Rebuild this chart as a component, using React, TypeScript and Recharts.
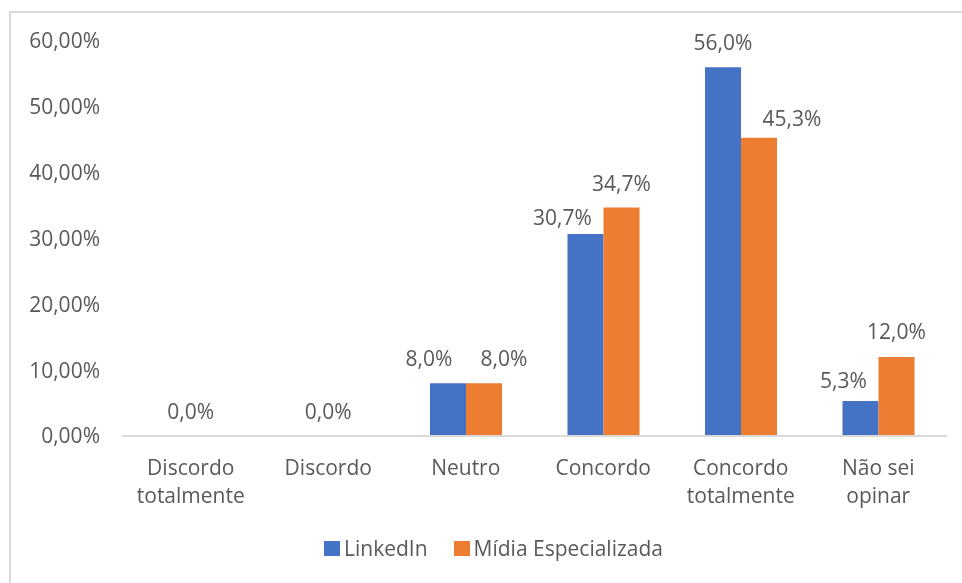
import { BarChart, Bar, XAxis, YAxis, Legend, LabelList } from "recharts";

const categories = [
  "Discordo totalmente",
  "Discordo",
  "Neutro",
  "Concordo",
  "Concordo totalmente",
  "Não sei opinar",
];
const linkedin = [0, 0, 8.0, 30.7, 56.0, 5.3];
const midia = [0, 0, 8.0, 34.7, 45.3, 12.0];
const yTicks = [0, 10, 20, 30, 40, 50, 60];
const seriesNames = ["LinkedIn", "Mídia Especializada"];

// label nudges (dx, dy) as placed by hand in the original
const linkedinShift = [[0, 0], [0, 0], [-19, 0], [-23, 8], [0, 0], [-17, 4]];
const midiaShift = [[0, 0], [0, 0], [20, 0], [0, 0], [33, 5], [0, -1]];

const BLUE = "#4472C4";
const ORANGE = "#ED7D31";
const TEXT = "#595959";
const FONT = "'Open Sans', sans-serif";
const FS = 21;

const data = categories.map((c, i) => ({ name: c, linkedin: linkedin[i], midia: midia[i] }));

const pct = (v: number, d: number) => v.toFixed(d).replace(".", ",") + "%";

// LabelList is keyed on the category name so the index is known
const makeLabel = (values: number[], shift: number[][]) => (props: any) => {
  const vb = props.viewBox || props;
  const x = props.x ?? vb.x;
  const y = props.y ?? vb.y;
  const width = props.width ?? vb.width;
  const i = categories.indexOf(props.value);
  if (i < 0) return null;
  const v = values[i];
  if (v === 0) return null;
  const [dx, dy] = shift[i];
  return (
    <text x={x + width / 2 + dx} y={y - 17 + dy} textAnchor="middle" fill={TEXT} fontSize={FS} fontFamily={FONT}>
      {pct(v, 1)}
    </text>
  );
};

const XTick = (props: any) => {
  const { x, y, payload } = props;
  const s: string = payload.value;
  const idx = categories.indexOf(s);
  const k = s.lastIndexOf(" ");
  const lines = k > 0 ? [s.slice(0, k), s.slice(k + 1)] : [s];
  const zero = idx >= 0 && linkedin[idx] === 0 && midia[idx] === 0;
  return (
    <g>
      {zero && (
        <text x={x} y={y - 25} textAnchor="middle" fill={TEXT} fontSize={FS} fontFamily={FONT}>
          {pct(0, 1)}
        </text>
      )}
      {lines.map((l, i) => (
        <text key={i} x={x} y={y + 31 + i * 28} textAnchor="middle" fill={TEXT} fontSize={FS} fontFamily={FONT}>
          {l}
        </text>
      ))}
    </g>
  );
};

const LegendBox = () => (
  <div style={{ height: 40, overflow: "visible" }}>
    <div style={{ position: "relative", top: 2, display: "flex", justifyContent: "center", paddingLeft: 32, fontFamily: FONT, fontSize: FS, color: TEXT }}>
      {seriesNames.map((n, i) => (
        <div key={n} style={{ display: "flex", alignItems: "center", marginRight: i === 0 ? 26 : 0 }}>
          <span style={{ width: 16, height: 15, background: i === 0 ? BLUE : ORANGE, display: "inline-block", marginRight: 4 }} />
          <span>{n}</span>
        </div>
      ))}
    </div>
  </div>
);

export default function App() {
  return (
    <div style={{ position: "relative", width: 946, height: 575 }}>
      <div style={{ position: "fixed", left: 9, top: 11, width: 980, height: 600, borderTop: "2px solid #D9D9D9", borderLeft: "2px solid #D9D9D9" }} />
      <BarChart width={946} height={575} data={data} margin={{ top: 33, right: 7, bottom: 11, left: 0 }} barGap={0} barSize={36}>
        <XAxis
          dataKey="name"
          height={96}
          interval={0}
          tickLine={false}
          axisLine={{ stroke: "#D9D9D9", strokeWidth: 2 }}
          tick={<XTick />}
        />
        <YAxis
          width={114}
          domain={[0, 60]}
          ticks={yTicks}
          axisLine={false}
          tickLine={false}
          tickMargin={16}
          tickFormatter={(v: number) => pct(v, 2)}
          tick={{ fill: TEXT, fontSize: FS, fontFamily: FONT }}
        />
        <Legend verticalAlign="bottom" content={<LegendBox />} />
        <Bar dataKey="linkedin" name={seriesNames[0]} fill={BLUE} isAnimationActive={false}>
          <LabelList dataKey="name" content={makeLabel(linkedin, linkedinShift)} />
        </Bar>
        <Bar dataKey="midia" name={seriesNames[1]} fill={ORANGE} isAnimationActive={false}>
          <LabelList dataKey="name" content={makeLabel(midia, midiaShift)} />
        </Bar>
      </BarChart>
    </div>
  );
}
